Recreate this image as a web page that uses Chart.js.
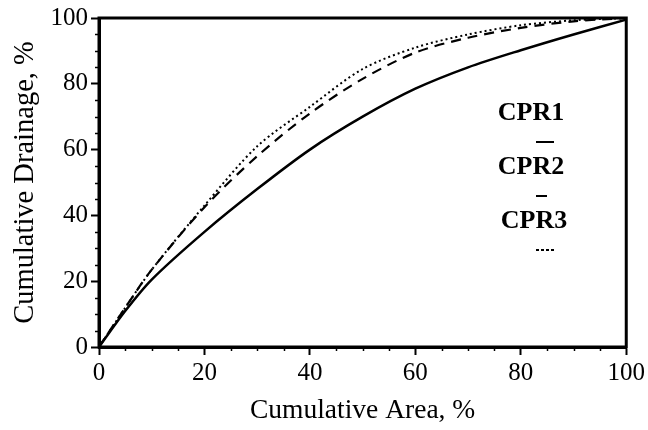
<!DOCTYPE html>
<html>
<head>
<meta charset="utf-8">
<script src="https://cdn.jsdelivr.net/npm/chart.js@4.4.1/dist/chart.umd.min.js"></script>
<style>
  html, body { margin: 0; padding: 0; background: #fff; }
  #wrap { width: 648px; height: 430px; }
</style>
</head>
<body>
<div id="wrap"><canvas id="c" width="648" height="430"></canvas></div>
<script>
// cumulative area, %
const area = [0, 5, 10, 20, 30, 40, 50, 60, 70, 80, 90, 100]
// cumulative drainage, %
const cpr1 = [0, 11, 20.5, 35, 48, 60, 70, 78.5, 85, 90.2, 95, 99.5]
const cpr2 = [0, 12, 23.5, 42.5, 58, 71, 81.5, 89.5, 94, 97, 99, 100]
const cpr3 = [0, 12, 23.5, 43, 61, 73, 84.5, 91, 95, 97.8, 99.3, 100]
const seriesNames = ["CPR1", "CPR2", "CPR3"]
const majorTicks = [0, 20, 40, 60, 80, 100]

const serif = "'Liberation Serif', 'Times New Roman', serif"

function pts(ys){
    return area.map((x, i) => ({x: x, y: ys[i]}))
}

// frame, minor ticks and the stacked legend
const extras = {
    id: 'extras',
    afterDraw(chart){
        const ctx = chart.ctx
        const a = chart.chartArea
        const xs = chart.scales.x
        const ys = chart.scales.y
        ctx.save()
        ctx.strokeStyle = '#000'
        ctx.lineWidth = 1.5
        for(let v = 0; v <= 100; v += 5){
            if(v % 20 === 0) continue
            const px = Math.round(xs.getPixelForValue(v)) + 0.5
            ctx.beginPath(); ctx.moveTo(px, a.bottom); ctx.lineTo(px, a.bottom + 4); ctx.stroke()
            const py = Math.round(ys.getPixelForValue(v)) + 0.5
            ctx.beginPath(); ctx.moveTo(a.left, py); ctx.lineTo(a.left - 4, py); ctx.stroke()
        }
        ctx.lineWidth = 3
        ctx.strokeRect(a.left, a.top, a.right - a.left, a.bottom - a.top)

        // legend: name above a short sample of the line
        ctx.fillStyle = '#000'
        ctx.font = "bold 26px " + serif
        ctx.textAlign = 'center'
        ctx.textBaseline = 'middle'
        const dashes = [[], [11, 40], [3, 2]]
        const lens = [18, 11, 19]
        seriesNames.forEach((name, i) => {
            const cy = 113 + i * 54
            ctx.fillText(name, 531 + (i === 2 ? 3 : 0), cy)
            ctx.setLineDash(dashes[i])
            ctx.lineWidth = 2
            ctx.beginPath()
            ctx.moveTo(536, cy + 29)
            ctx.lineTo(536 + lens[i], cy + 29)
            ctx.stroke()
        })
        ctx.restore()
    }
}

const ctx = document.getElementById('c').getContext('2d')
new Chart(ctx, {
    type: 'line',
    data: {
        datasets: [
            { label: seriesNames[0], data: pts(cpr1), borderColor: '#000', borderWidth: 2.5, pointRadius: 0, tension: 0.3 },
            { label: seriesNames[1], data: pts(cpr2), borderColor: '#000', borderWidth: 2.2, borderDash: [10, 7], pointRadius: 0, tension: 0.3 },
            { label: seriesNames[2], data: pts(cpr3), borderColor: '#000', borderWidth: 2, borderDash: [2, 3], pointRadius: 0, tension: 0.3 },
        ]
    },
    options: {
        responsive: false,
        animation: false,
        layout: { padding: { top: 18, right: 20, left: 0, bottom: 0 } },
        scales: {
            x: {
                type: 'linear', min: 0, max: 100,
                afterBuildTicks: s => { s.ticks = majorTicks.map(v => ({value: v})) },
                afterFit: s => { s.height = 83 },
                grid: { drawOnChartArea: false, tickLength: 8, tickWidth: 2, tickColor: '#000' },
                border: { color: '#000', width: 3 },
                ticks: { color: '#000', font: { family: serif, size: 25 }, padding: 3, maxRotation: 0 },
                title: { display: true, text: 'Cumulative Area, %', color: '#000', font: { family: serif, size: 27.5 }, padding: { top: 0, bottom: 3 } }
            },
            y: {
                type: 'linear', min: 0, max: 100,
                afterBuildTicks: s => { s.ticks = majorTicks.map(v => ({value: v})) },
                afterFit: s => { s.width = 99 },
                grid: { drawOnChartArea: false, tickLength: 8, tickWidth: 2, tickColor: '#000' },
                border: { color: '#000', width: 3 },
                ticks: { color: '#000', font: { family: serif, size: 25 }, padding: 3 },
                title: { display: true, text: 'Cumulative Drainage, %', color: '#000', font: { family: serif, size: 28.5 }, padding: { top: 8, bottom: 0 } }
            }
        },
        plugins: {
            legend: { display: false },
            tooltip: { enabled: false }
        }
    },
    plugins: [extras]
})
</script>
</body>
</html>
